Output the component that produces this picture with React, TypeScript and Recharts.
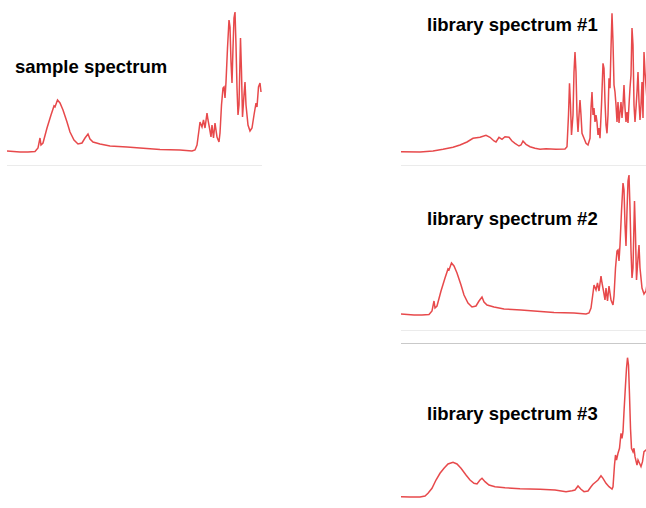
import { LineChart, Line, XAxis, YAxis } from 'recharts';

// channel positions (0 = left edge of a panel) and intensities
const sampleChannel = [
  0, 13, 21, 28, 31, 33, 34, 36, 40, 44, 47, 48, 50.5, 53, 56, 60, 63, 67, 71, 75, 78, 81, 83, 86,
  93, 103, 120, 133, 153, 173, 185, 188, 190, 192, 193, 195, 196.5, 198, 200, 201, 202.5, 204, 205,
  206.5, 208, 210, 212, 213, 214.5, 216, 217, 218, 219, 220.5, 222, 223, 224, 225, 226, 227, 228,
  229, 230, 231, 232, 233.5, 234.5, 235.5, 237, 238, 239, 241, 243, 245, 247, 249, 250, 251.5, 253, 254,
];
const sampleIntensity = [
  9, 8, 8, 8.5, 12, 22, 15, 17, 32, 45, 54, 53, 60, 57, 50, 38, 28, 20, 16, 17, 22, 26, 21, 18,
  16, 14, 13, 12, 10.5, 10, 9, 10, 15, 30, 38, 33, 40, 32, 47, 40, 32, 23, 35,
  22, 37, 23, 18, 27, 55, 72, 73, 62, 78, 112, 140, 133, 98, 77, 112, 142, 148,
  115, 72, 45, 55, 122, 88, 43, 65, 78, 55, 35, 29, 32, 45, 57, 53, 73, 77, 68,
];

const lib1Channel = [
  0, 19, 32, 42, 52, 59, 66, 72, 79, 85, 89, 93, 95, 98, 101, 104, 108, 111, 114, 118, 120, 122, 125,
  129, 134, 139, 145, 155, 164, 166, 167.5, 168.5, 169.5, 170.5, 172, 173, 174, 175, 176, 177, 178,
  179, 180, 181, 183, 185, 187, 189, 190, 191, 192, 193, 194, 195, 196, 197, 198, 199, 200.5, 202,
  203, 204, 205, 206, 207, 208, 209, 210, 211, 212, 213, 214, 215, 216, 217, 218, 219, 220, 221, 222,
  223, 224, 225, 226, 227, 228, 229, 230, 231, 232, 233, 234, 235, 236, 237, 238, 239, 240, 241, 242,
  243, 244, 246, 249, 254,
];
const lib1Intensity = [
  8.3, 8, 9, 10.7, 12.7, 15, 18, 21.7, 22.7, 24.7, 22.7, 19, 18, 22.7, 20.7, 23.3, 22.7, 19, 16.7, 14, 15, 19, 15.7,
  13.3, 11.7, 10.7, 11.3, 10.7, 11, 13.3, 45, 76.7, 55, 25, 45, 88, 108, 88, 45, 28, 45,
  60, 45, 26.7, 21.7, 16.7, 15, 21.7, 51.7, 68, 45, 52, 38, 45, 38, 25, 32, 21.7, 55, 96.7,
  91.7, 58.3, 35, 26.7, 45, 81.7, 71.7, 111.7, 146.7, 118, 75, 68, 55, 38, 58, 37, 48, 58, 42, 55,
  75, 52, 38, 48, 37, 55, 72, 85, 132, 115, 55, 38, 52, 68, 88, 58, 40, 55, 78, 42,
  108, 88, 60, 50, 42,
];

// library #2 is the same trace as the sample
const lib2Channel = sampleChannel;
const lib2Intensity = sampleIntensity;

const lib3Channel = [
  0, 9, 19, 24, 27, 31, 35, 39, 43, 47, 52, 56, 60, 65, 69, 73, 76, 79, 81, 84, 88, 94, 104, 119, 139,
  154, 165, 171, 174, 177, 180, 183, 187, 190, 192, 195, 197, 200, 202, 205, 208, 211, 212, 213.5,
  214.5, 215.5, 217, 218.5, 220, 221, 222, 223, 224.5, 225.5, 226.5, 227.5, 228.5, 229.5, 230.5, 232,
  233, 234, 236, 237, 238.5, 240, 241.5, 243, 245, 249, 254,
];
const lib3Intensity = [
  3.3, 3, 3, 4, 6.7, 11.7, 20, 26.7, 31.7, 36, 37.7, 36, 31.7, 25, 20, 16.7, 16, 20, 21.7, 18.3, 15, 13.3, 12.3, 11.3, 10.7,
  10, 8.3, 9.3, 10, 14, 10.7, 8.3, 9, 13.3, 15.7, 18.3, 20, 24.3, 21.7, 16.7, 13.3, 11, 13.3, 35,
  45, 40, 46.7, 51.7, 66.7, 61.7, 68.3, 88.3, 115, 131.7, 142.3, 135, 105, 71.7, 51.7, 48.3,
  51.7, 43.3, 35, 40, 36.7, 33.3, 38.3, 48.3, 50, 45, 40,
];

const titles = ['sample spectrum', 'library spectrum #1', 'library spectrum #2', 'library spectrum #3'];

const RED = '#e3292b';
const FONT = '"Liberation Sans", Arial, sans-serif';

function toRows(ch: number[], val: number[]) {
  return ch.map((c, i) => ({ ch: c, v: val[i] }));
}

function Spectrum({ ch, val, left, top }: { ch: number[]; val: number[]; left: number; top: number }) {
  return (
    <div style={{ position: 'absolute', left, top }}>
      <LineChart width={255} height={150} data={toRows(ch, val)} margin={{ top: 0, right: 0, bottom: 0, left: 0 }}>
        <XAxis dataKey="ch" type="number" domain={[0, 255]} hide />
        <YAxis type="number" domain={[0, 150]} hide allowDataOverflow />
        <Line
          type="linear"
          dataKey="v"
          stroke={RED}
          strokeWidth={1.5}
          strokeOpacity={0.85}
          dot={false}
          isAnimationActive={false}
        />
      </LineChart>
    </div>
  );
}

function Title({ text, left, top }: { text: string; left: number; top: number }) {
  return (
    <div
      style={{
        position: 'absolute', left, top, fontFamily: FONT, fontWeight: 'bold',
        fontSize: 18.5, lineHeight: '18px', color: '#000', whiteSpace: 'nowrap',
      }}
    >
      {text}
    </div>
  );
}

function Rule({ left, top, width, color }: { left: number; top: number; width: number; color: string }) {
  return <div style={{ position: 'absolute', left, top, width, height: 1, background: color }} />;
}

export default function App() {
  return (
    <div style={{ position: 'fixed', left: 0, top: 0, width: 646, height: 508, overflow: 'hidden', background: '#fff' }}>
      <Spectrum ch={sampleChannel} val={sampleIntensity} left={7} top={10} />
      <Spectrum ch={lib1Channel} val={lib1Intensity} left={401} top={10} />
      <Spectrum ch={lib2Channel} val={lib2Intensity} left={401} top={173} />
      <Spectrum ch={lib3Channel} val={lib3Intensity} left={401} top={350} />

      <Rule left={7} top={165} width={255} color="#ebebeb" />
      <Rule left={401} top={165} width={245} color="#ebebeb" />
      <Rule left={401} top={330} width={245} color="#ebebeb" />
      <Rule left={401} top={343} width={245} color="#c9c9c9" />

      <Title text={titles[0]} left={15} top={58} />
      <Title text={titles[1]} left={427} top={16} />
      <Title text={titles[2]} left={427} top={210} />
      <Title text={titles[3]} left={427} top={405} />
    </div>
  );
}
